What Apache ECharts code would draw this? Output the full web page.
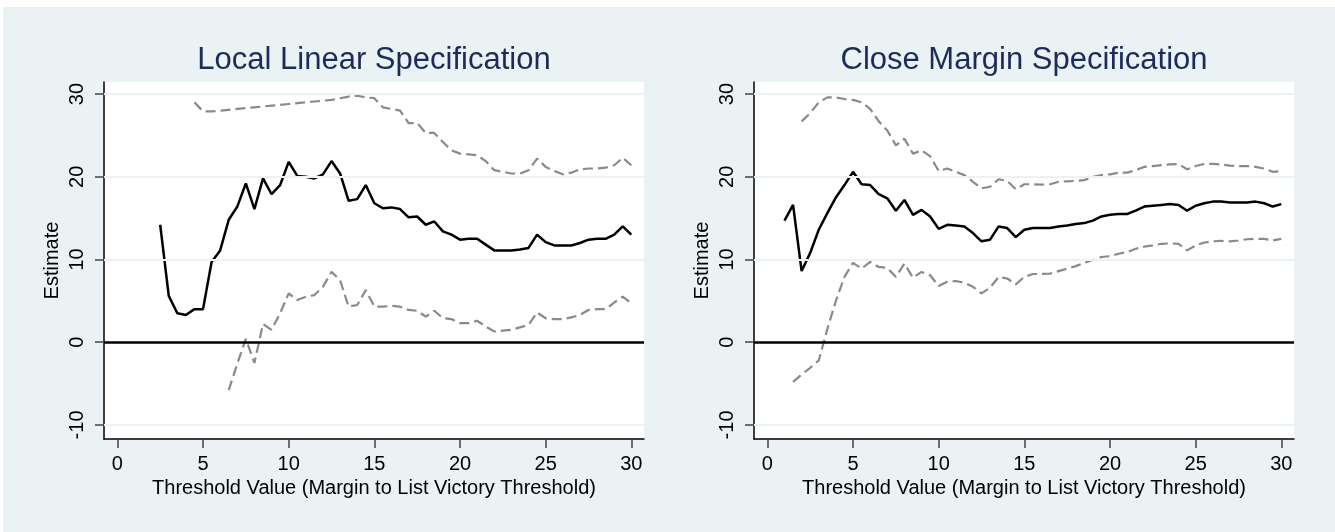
<!DOCTYPE html>
<html>
<head>
<meta charset="utf-8">
<script src="https://cdn.jsdelivr.net/npm/echarts@6/dist/echarts.min.js"></script>
<style>
    html, body { margin: 0; padding: 0; background: #fff; }
    #rd_threshold_con { position: absolute; left: 3px; top: 7px; width: 1332px; height: 525px; background: #eaf2f3; }
</style>
</head>
<body>
<div id="rd_threshold_con"></div>
<script>
// threshold values (margin to list victory threshold)
const thresholds = [1.0, 1.5, 2.0, 2.5, 3.0, 3.5, 4.0, 4.5, 5.0, 5.5, 6.0, 6.5, 7.0, 7.5, 8.0, 8.5, 9.0, 9.5, 10.0, 10.5,
    11.0, 11.5, 12.0, 12.5, 13.0, 13.5, 14.0, 14.5, 15.0, 15.5, 16.0, 16.5, 17.0, 17.5, 18.0, 18.5, 19.0, 19.5, 20.0, 20.5,
    21.0, 21.5, 22.0, 22.5, 23.0, 23.5, 24.0, 24.5, 25.0, 25.5, 26.0, 26.5, 27.0, 27.5, 28.0, 28.5, 29.0, 29.5, 30.0];

// local linear specification
const llEstimate = [null, null, null,
    14.2, 5.6, 3.5, 3.3, 4.0, 4.0, 9.7, 11.1, 14.8, 16.4, 19.2, 16.1, 19.8, 17.9, 19.0, 21.8, 20.1, 20.0, 19.8, 20.3,
    21.9, 20.4, 17.1, 17.3, 19.0, 16.8, 16.2, 16.3, 16.1, 15.1, 15.2, 14.2, 14.6, 13.4, 13.0, 12.4, 12.5, 12.5, 11.8,
    11.1, 11.1, 11.1, 11.2, 11.4, 13.0, 12.1, 11.7, 11.7, 11.7, 12.0, 12.4, 12.5, 12.5, 13.0, 14.0, 13.0];
const llUpper = [null, null, null, null, null, null, null,
    29.0, 27.9, 27.9, 28.0, 28.1, 28.2, 28.3, 28.4, 28.5, 28.6, 28.7, 28.8, 28.9, 29.0, 29.1, 29.2, 29.3, 29.5, 29.7,
    29.8, 29.6, 29.5, 28.4, 28.2, 28.0, 26.5, 26.5, 25.3, 25.3, 24.2, 23.2, 22.8, 22.7, 22.6, 21.9, 20.8, 20.6, 20.4,
    20.4, 20.8, 22.2, 21.2, 20.7, 20.3, 20.5, 20.9, 21.0, 21.0, 21.1, 21.4, 22.3, 21.4];
const llLower = [null, null, null, null, null, null, null, null, null, null, null,
    -5.8, -2.6, 0.4, -2.5, 2.2, 1.5, 3.5, 5.9, 5.1, 5.5, 5.7, 6.7, 8.5, 7.5, 4.3, 4.5, 6.3, 4.3, 4.3, 4.4, 4.3, 3.9,
    3.8, 3.1, 3.8, 2.9, 2.8, 2.3, 2.3, 2.6, 1.9, 1.3, 1.4, 1.5, 1.8, 2.1, 3.6, 2.9, 2.8, 2.8, 3.0, 3.3, 3.9, 4.0, 4.0,
    4.8, 5.5, 4.7];

// close margin specification
const cmEstimate = [14.7, 16.6, 8.6, 10.8, 13.6, 15.6, 17.5, 19.0, 20.6, 19.1, 19.0, 17.9, 17.4, 15.9, 17.2, 15.4, 16.0,
    15.2, 13.7, 14.2, 14.1, 14.0, 13.2, 12.2, 12.4, 14.0, 13.8, 12.7, 13.6, 13.8, 13.8, 13.8, 14.0, 14.1, 14.3, 14.4,
    14.7, 15.2, 15.4, 15.5, 15.5, 15.9, 16.4, 16.5, 16.6, 16.7, 16.6, 15.9, 16.5, 16.8, 17.0, 17.0, 16.9, 16.9, 16.9,
    17.0, 16.8, 16.4, 16.7];
const cmUpper = [null, null,
    26.7, 27.7, 29.0, 29.6, 29.6, 29.4, 29.3, 29.0, 28.2, 26.7, 25.6, 23.8, 24.6, 22.8, 23.2, 22.5, 20.7, 21.0, 20.6,
    20.2, 19.4, 18.6, 18.8, 19.7, 19.5, 18.5, 19.1, 19.1, 19.05, 19.1, 19.4, 19.45, 19.5, 19.6, 20.0, 20.2, 20.3, 20.5,
    20.5, 20.8, 21.2, 21.3, 21.4, 21.5, 21.55, 20.9, 21.3, 21.55, 21.55, 21.5, 21.35, 21.3, 21.3, 21.2, 21.0, 20.6, 20.7];
const cmLower = [null,
    -4.8, -3.9, -3.1, -2.2, 1.6, 5.0, 7.9, 9.6, 8.9, 9.7, 9.1, 9.0, 7.9, 9.5, 7.8, 8.5, 8.1, 6.8, 7.3, 7.4, 7.2, 6.7,
    5.9, 6.6, 7.9, 7.7, 7.0, 7.9, 8.25, 8.25, 8.3, 8.6, 8.9, 9.2, 9.6, 9.95, 10.3, 10.4, 10.7, 10.9, 11.3, 11.55, 11.7,
    11.9, 11.95, 11.9, 11.1, 11.7, 12.05, 12.2, 12.25, 12.2, 12.3, 12.45, 12.5, 12.5, 12.3, 12.5];

const xTicks = [0, 5, 10, 15, 20, 25, 30];
const yTicks = [-10, 0, 10, 20, 30];
const gridValues = [-10, 10, 20, 30];

const panelTitles = ['Local Linear Specification', 'Close Margin Specification'];
const xTitle = 'Threshold Value (Margin to List Victory Threshold)';
const yTitle = 'Estimate';

function pairs (vals) {
    var out = [];
    for (var i = 0; i < thresholds.length; i++) {
        if (vals[i] !== null) out.push([thresholds[i], vals[i]]);
    }
    return out;
}

var chart = echarts.init(document.getElementById('rd_threshold_con'));
var font = '"Liberation Sans", Arial, sans-serif';

function xAxisFor (idx) {
    return {
        gridIndex: idx,
        type: 'value',
        min: -0.78,
        max: 30.74,
        name: xTitle,
        nameLocation: 'middle',
        nameGap: 35,
        nameTextStyle: {color: '#000', fontSize: 20, fontFamily: font},
        axisLine: {show: true, onZero: false, lineStyle: {color: '#000', width: 1.5}},
        axisTick: {show: true, length: 9, customValues: xTicks, lineStyle: {color: '#444', width: 1.5}},
        axisLabel: {customValues: xTicks, margin: 15, color: '#000', fontSize: 20, fontFamily: font},
        splitLine: {show: false}
    };
}

function yAxisFor (idx) {
    return {
        gridIndex: idx,
        type: 'value',
        min: -11.7,
        max: 31.46,
        name: yTitle,
        nameLocation: 'middle',
        nameGap: 42,
        nameTextStyle: {color: '#000', fontSize: 20, fontFamily: font},
        axisLine: {show: true, onZero: false, lineStyle: {color: '#000', width: 1.5}},
        axisTick: {show: true, length: 9, customValues: yTicks, lineStyle: {color: '#444', width: 1.5}},
        axisLabel: {customValues: yTicks, rotate: 90, margin: 17, color: '#000', fontSize: 20, fontFamily: font},
        splitLine: {show: false}
    };
}

function panelSeries (idx, est, upper, lower) {
    return [
        {
            // grid lines and the zero reference line
            type: 'line',
            xAxisIndex: idx,
            yAxisIndex: idx,
            data: pairs(est),
            z: 1,
            silent: true,
            showSymbol: false,
            lineStyle: {opacity: 0},
            markLine: {
                silent: true,
                symbol: 'none',
                label: {show: false},
                data: gridValues.map(function (v) {
                    return {yAxis: v, lineStyle: {color: '#eaf2f3', width: 2, type: 'solid'}};
                }).concat([{yAxis: 0, lineStyle: {color: '#000', width: 2.5, type: 'solid'}}])
            }
        },
        {
            type: 'line',
            xAxisIndex: idx,
            yAxisIndex: idx,
            data: pairs(upper),
            showSymbol: false,
            silent: true,
            lineStyle: {color: '#8a8a8a', width: 2.2, type: [10, 5]}
        },
        {
            type: 'line',
            xAxisIndex: idx,
            yAxisIndex: idx,
            data: pairs(lower),
            showSymbol: false,
            silent: true,
            lineStyle: {color: '#8a8a8a', width: 2.2, type: [10, 5]}
        },
        {
            type: 'line',
            xAxisIndex: idx,
            yAxisIndex: idx,
            data: pairs(est),
            showSymbol: false,
            silent: true,
            lineStyle: {color: '#000', width: 2.5}
        }
    ];
}

const option = {
    animation: false,
    backgroundColor: '#eaf2f3',
    title: [
        {text: panelTitles[0], left: 371, top: 38, textAlign: 'center', padding: 0,
            textStyle: {color: '#1c2b5a', fontSize: 31, fontWeight: 'normal', fontFamily: font}},
        {text: panelTitles[1], left: 1021, top: 38, textAlign: 'center', padding: 0,
            textStyle: {color: '#1c2b5a', fontSize: 31, fontWeight: 'normal', fontFamily: font}}
    ],
    grid: [
        {left: 101, top: 75, width: 540, height: 357, show: true, backgroundColor: '#fff', borderWidth: 0},
        {left: 751, top: 75, width: 540, height: 357, show: true, backgroundColor: '#fff', borderWidth: 0}
    ],
    xAxis: [xAxisFor(0), xAxisFor(1)],
    yAxis: [yAxisFor(0), yAxisFor(1)],
    series: panelSeries(0, llEstimate, llUpper, llLower).concat(panelSeries(1, cmEstimate, cmUpper, cmLower))
};
chart.setOption(option);
window.addEventListener('resize', function () {
    chart.resize();
});
</script>
</body>
</html>
